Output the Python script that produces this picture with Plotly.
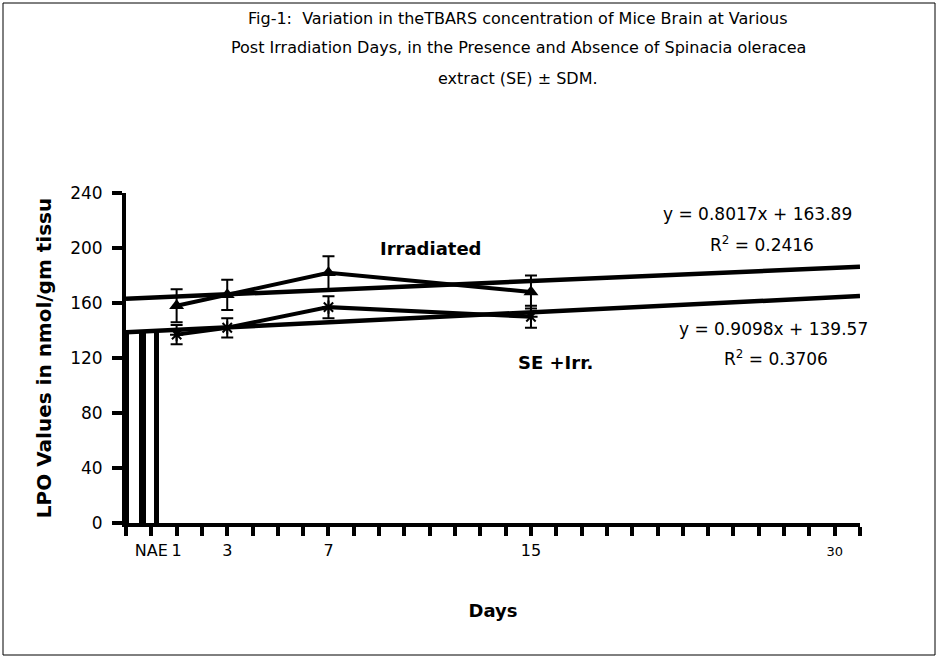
import plotly.graph_objects as go
import numpy as np

# ---- data ----
days = [1, 3, 7, 15]
irradiated = [158, 166, 182, 168]
irradiated_err = [12, 11, 12, 12]
se_irr = [137, 142, 157, 150]
se_irr_err = [7, 7, 8, 8]

nae_labels = ["N", "A", "E"]
nae_values = [139, 139, 139]

# trendline coefficients (slope, intercept, R^2)
irr_trend = (0.8017, 163.89, 0.2416)
se_trend = (0.9098, 139.57, 0.3706)

x_tick_positions = [0, 1, 3, 7, 15, 27]
x_tick_labels = ["NAE", "1", "3", "7", "15", "30"]

y_ticks = [0, 40, 80, 120, 160, 200, 240]

# ---- layout helpers ----
XMIN, XMAX = -1, 28
L, R, T, B = 126, 78, 193, 135
W, H = 938, 658
nae_x = [-0.96, -0.34, 0.22]
PW, PH = W - L - R, H - T - B

fig = go.Figure()

# N / A / E columns
fig.add_trace(go.Bar(x=nae_x, y=nae_values, width=[0.15, 0.26, 0.2],
                     marker=dict(color="black", line=dict(width=0)),
                     showlegend=False, hoverinfo="skip"))

# trendlines
xt = np.array([XMIN, XMAX], dtype=float)
for slope, icpt, _ in (irr_trend, se_trend):
    fig.add_trace(go.Scatter(x=xt, y=slope * xt + icpt, mode="lines",
                             line=dict(color="black", width=4.5),
                             showlegend=False, hoverinfo="skip"))

# data series
fig.add_trace(go.Scatter(x=days, y=irradiated, mode="lines+markers", name="Irradiated",
                         line=dict(color="black", width=4),
                         marker=dict(symbol="triangle-up", size=13, color="black"),
                         error_y=dict(type="data", array=irradiated_err, color="black",
                                      thickness=2, width=6),
                         showlegend=False))
fig.add_trace(go.Scatter(x=days, y=se_irr, mode="lines+markers", name="SE +Irr.",
                         line=dict(color="black", width=4),
                         marker=dict(symbol="asterisk-open", size=11, color="black",
                                     line=dict(color="black", width=2)),
                         error_y=dict(type="data", array=se_irr_err, color="black",
                                      thickness=2, width=6),
                         showlegend=False))

font_main = "DejaVu Sans, Verdana, sans-serif"

annotations = []
title_lines = [
    "Fig-1:  Variation in theTBARS concentration of Mice Brain at Various",
    "Post Irradiation Days, in the Presence and Absence of Spinacia oleracea",
    "extract (SE) ± SDM.",
]
for i, line in enumerate(title_lines):
    annotations.append(dict(text=line, xref="paper", yref="paper",
                            x=(518 - L) / PW, y=(H - B - (18 + 30 * i)) / PH,
                            showarrow=False, xanchor="center", yanchor="middle",
                            font=dict(size=16, family=font_main, color="black")))


def pos(px, py):
    return (px - L) / PW, (H - B - py) / PH


for txt, (px, py), bold in [
    ("Irradiated", (431, 248), True),
    ("SE +Irr.", (555, 362), True),
    ("y = %.4fx + %.2f" % (irr_trend[0], irr_trend[1]), (757, 214), False),
    ("R<sup>2</sup> = %.4f" % irr_trend[2], (762, 244), False),
    ("y = %.4fx + %.2f" % (se_trend[0], se_trend[1]), (773, 329), False),
    ("R<sup>2</sup> = %.4f" % se_trend[2], (776, 358), False),
]:
    ax, ay = pos(px, py)
    annotations.append(dict(text=("<b>%s</b>" % txt) if bold else txt,
                            xref="paper", yref="paper", x=ax, y=ay,
                            showarrow=False, xanchor="center", yanchor="middle",
                            font=dict(size=18 if bold else 17, family=font_main, color="black")))

ticktext = [("<span style='font-size:13px'>%s</span>" % t) if t == "30" else t
            for t in x_tick_labels]

fig.update_layout(
    width=W, height=H,
    margin=dict(l=L, r=R, t=T, b=B, autoexpand=False),
    paper_bgcolor="white", plot_bgcolor="white",
    showlegend=False,
    bargap=0,
    annotations=annotations,
    shapes=[dict(type="rect", xref="paper", yref="paper",
                 x0=(3 - L) / PW, x1=(935 - L) / PW,
                 y0=(H - B - 655) / PH, y1=(H - B - 3) / PH,
                 line=dict(color="black", width=1))],
    xaxis=dict(range=[XMIN, XMAX], tickmode="array", tickvals=x_tick_positions,
               ticktext=ticktext,
               tickangle=0, ticks="outside", ticklen=9, tickwidth=4, tickcolor="black",
               minor=dict(dtick=1, tick0=0, ticks="outside", ticklen=9, tickwidth=4,
                          tickcolor="black", showgrid=False),
               showline=True, linewidth=4, linecolor="black", showgrid=False, zeroline=False,
               tickfont=dict(size=16, family=font_main, color="black"),
               ticklabelstandoff=1,
               title=dict(text="<b>Days</b>", standoff=46,
                          font=dict(size=18, family=font_main, color="black"))),
    yaxis=dict(range=[0, 240], tickmode="array", tickvals=y_ticks,
               ticks="outside", ticklen=10, tickwidth=4, tickcolor="black",
               showline=True, linewidth=4, linecolor="black", showgrid=False, zeroline=False,
               tickfont=dict(size=17, family=font_main, color="black"),
               ticklabelstandoff=6,
               title=dict(text="<b>LPO Values in nmol/gm tissu</b>", standoff=14,
                          font=dict(size=20, family=font_main, color="black"))),
)

fig.write_html("out.html", config={"displayModeBar": False},
               post_script="document.body.style.margin='0';")
